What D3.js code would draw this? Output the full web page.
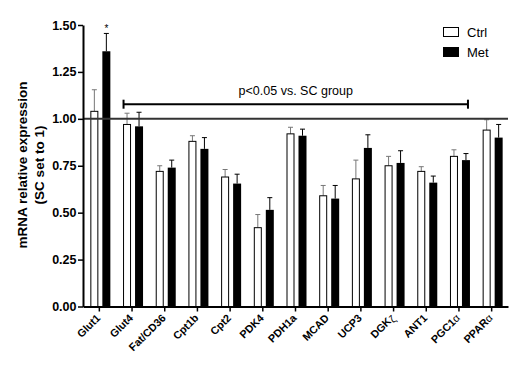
<!DOCTYPE html>
<html>
<head>
<meta charset="utf-8">
<script src="https://cdn.jsdelivr.net/npm/d3@7"></script>
<style>
  body { margin: 0; background: #fff; }
  svg { font-family: Arial, "Liberation Sans", sans-serif; }
</style>
</head>
<body>
<script>
const genes = ["Glut1", "Glut4", "Fat/CD36", "Cpt1b", "Cpt2", "PDK4", "PDH1a", "MCAD", "UCP3", "DGK\u03B6", "ANT1", "PGC1\u03B1", "PPAR\u03B1"];
const ctrlMean = [1.04, 0.97, 0.72, 0.88, 0.69, 0.42, 0.92, 0.59, 0.68, 0.75, 0.72, 0.80, 0.94];
const ctrlErr  = [0.115, 0.06, 0.03, 0.03, 0.04, 0.07, 0.035, 0.055, 0.10, 0.05, 0.025, 0.035, 0.055];
const metMean  = [1.36, 0.96, 0.74, 0.84, 0.655, 0.515, 0.91, 0.575, 0.845, 0.765, 0.66, 0.78, 0.90];
const metErr   = [0.095, 0.075, 0.04, 0.06, 0.05, 0.065, 0.035, 0.07, 0.07, 0.065, 0.035, 0.035, 0.07];
const yTicks = [0, 0.25, 0.5, 0.75, 1.0, 1.25, 1.5];
const seriesNames = ["Ctrl", "Met"];

const W = 516, H = 366;
const m = {left: 83, right: 8, top: 25, bottom: 59.5};

const svg = d3.select("body").append("svg").attr("width", W).attr("height", H);

const x = d3.scaleBand().domain(genes).range([m.left, W - m.right]).padding(0);
const y = d3.scaleLinear().domain([0, 1.5]).range([H - m.bottom, m.top]);
const xc = g => x(g) + x.bandwidth() / 2;

const barW = 8, gap = 4;

const rows = genes.map((g, i) => ({g, c: ctrlMean[i], ce: ctrlErr[i], m: metMean[i], me: metErr[i]}));

// bars
const grp = svg.append("g");
rows.forEach(d => {
  const cx = xc(d.g);
  const ctrlX = cx - gap / 2 - barW + 1;
  const metX = cx + gap / 2 + 1;
  // error bars (drawn first)
  [[ctrlX, d.c, d.ce, "#777"], [metX, d.m, d.me, "#000"]].forEach(([bx, v, e, col]) => {
    const mid = bx + barW / 2;
    grp.append("line").attr("x1", mid).attr("x2", mid)
      .attr("y1", y(v)).attr("y2", y(v + e))
      .attr("stroke", col).attr("stroke-width", 1);
    grp.append("line").attr("x1", mid - 2.5).attr("x2", mid + 2.5)
      .attr("y1", y(v + e)).attr("y2", y(v + e))
      .attr("stroke", col).attr("stroke-width", 1);
  });
  grp.append("rect").attr("x", ctrlX + 0.5).attr("y", y(d.c))
    .attr("width", barW - 1).attr("height", y(0) - y(d.c))
    .attr("fill", "#fff").attr("stroke", "#000").attr("stroke-width", 1);
  grp.append("rect").attr("x", metX).attr("y", y(d.m))
    .attr("width", barW).attr("height", y(0) - y(d.m))
    .attr("fill", "#000");
});

// asterisk over Glut1 Met
svg.append("text")
  .attr("x", xc("Glut1") + gap / 2 + 1 + barW / 2)
  .attr("y", y(metMean[0] + metErr[0]) - 1)
  .attr("text-anchor", "middle").attr("font-size", 10)
  .text("*");

// reference line at 1.0
svg.append("line").attr("x1", m.left).attr("x2", W - m.right)
  .attr("y1", y(1)).attr("y2", y(1))
  .attr("stroke", "#333").attr("stroke-width", 2);

// significance bracket
const bx1 = xc("Glut4") - 8.5, bx2 = xc("PGC1\u03B1") + 9, byv = y(1.078);
svg.append("line").attr("x1", bx1).attr("x2", bx2).attr("y1", byv).attr("y2", byv)
  .attr("stroke", "#000").attr("stroke-width", 2);
[bx1, bx2].forEach(bx => svg.append("line").attr("x1", bx).attr("x2", bx)
  .attr("y1", byv - 4.5).attr("y2", byv + 4.5).attr("stroke", "#000").attr("stroke-width", 2));
svg.append("text").attr("x", (bx1 + bx2) / 2).attr("y", byv - 9)
  .attr("text-anchor", "middle").attr("font-size", 12.5)
  .text("p<0.05 vs. SC group");

// axes
const yAxis = svg.append("g").attr("transform", `translate(${m.left},0)`)
  .call(d3.axisLeft(y).tickValues(yTicks).tickFormat(d3.format(".2f")).tickSize(5).tickSizeOuter(0));
yAxis.select(".domain").attr("stroke-width", 2);
yAxis.selectAll(".tick line").attr("stroke-width", 1.5);
yAxis.selectAll("text").attr("font-size", 12.5).attr("font-weight", "bold")
  .attr("font-family", "Arial, 'Liberation Sans', sans-serif").attr("x", -6.5);

const xAxis = svg.append("g").attr("transform", `translate(0,${y(0)})`)
  .call(d3.axisBottom(x).tickSize(5).tickSizeOuter(0));
xAxis.select(".domain").attr("stroke-width", 2);
xAxis.selectAll(".tick line").attr("stroke-width", 1.5);
xAxis.selectAll("text").remove();
xAxis.selectAll(".tick").each(function(g) {
  const t = d3.select(this).append("text")
    .attr("transform", "translate(-1,9.5) rotate(-45)")
    .attr("text-anchor", "end").attr("fill", "#000")
    .attr("font-size", 10.8).attr("font-weight", "bold")
    .attr("font-family", "Arial, 'Liberation Sans', sans-serif")
    .attr("dy", "0.35em");
  const greek = /[\u03B1\u03B6]$/.test(g);
  if (greek) {
    t.append("tspan").text(g.slice(0, -1));
    t.append("tspan").attr("font-weight", "normal")
      .attr("dy", g.endsWith("\u03B6") ? "0.2em" : "0").text(g.slice(-1));
  } else {
    t.text(g);
  }
});

// y label
svg.append("text").attr("transform", `translate(27,165) rotate(-90)`)
  .attr("text-anchor", "middle").attr("font-size", 13.5).attr("font-weight", "bold")
  .text("mRNA relative expression");
svg.append("text").attr("transform", `translate(44,165) rotate(-90)`)
  .attr("text-anchor", "middle").attr("font-size", 13.5).attr("font-weight", "bold")
  .text("(SC set to 1)");

// legend
const leg = svg.append("g").attr("transform", "translate(443,27)");
seriesNames.forEach((s, i) => {
  const r = leg.append("g").attr("transform", `translate(0,${i * 20})`);
  r.append("rect").attr("x", 0.5).attr("y", 0.5).attr("width", 15).attr("height", 9)
    .attr("fill", i === 0 ? "#fff" : "#000").attr("stroke", "#000").attr("stroke-width", 1);
  r.append("text").attr("x", 24).attr("y", 9.5).attr("font-size", 13).text(s);
});
</script>
</body>
</html>
